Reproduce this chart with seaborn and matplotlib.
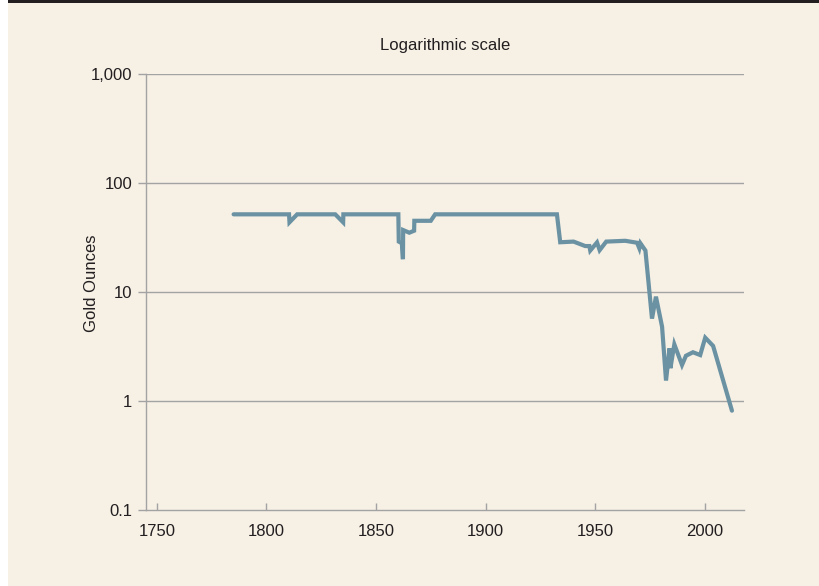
import pandas as pd
import seaborn as sns
import matplotlib.pyplot as plt
from matplotlib.patches import Rectangle
from matplotlib.ticker import FixedLocator, FixedFormatter, NullLocator

# Gold ounces over time
years = [1785, 1810.3, 1810.5, 1814, 1831.4, 1835, 1835.1, 1860.2, 1860.4, 1861.8,
         1862.3, 1862.4, 1865.2, 1867.4, 1867.5, 1875, 1877,
         1932.6, 1934.1, 1940.2, 1945.5, 1947.4, 1947.8, 1950.9, 1952.1, 1955.1,
         1963.8, 1969.2, 1970.2, 1970.7, 1973, 1976, 1977.8, 1980.6, 1982.4,
         1984, 1984.4, 1986.2, 1989.7, 1991.5, 1994.7, 1998, 2000.3, 2003.9, 2012.5]
ounces = [51.6, 51.6, 43.6, 51.6, 51.6, 43.6, 51.6, 51.6, 29.0, 28.0,
          20.0, 37.0, 35.0, 36.5, 45.0, 45.0, 51.6,
          51.6, 28.6, 29.0, 26.4, 26.4, 24.0, 28.5, 24.2, 29.0,
          29.5, 28.3, 25.2, 28.0, 24.0, 5.7, 9.06, 4.8, 1.54,
          3.04, 2.0, 3.31, 2.14, 2.6, 2.8, 2.64, 3.81, 3.2, 0.815]

y_ticks = [0.1, 1, 10, 100, 1000]
y_labels = ['0.1', '1', '10', '100', '1,000']
x_ticks = [1750, 1800, 1850, 1900, 1950, 2000]

df = pd.DataFrame({'year': years, 'ounces': ounces})

bg = '#f6f0e5'
ink = '#231f20'
grey = '#a3a3a3'

sns.set_style('white')
plt.rcParams['font.family'] = ['Liberation Sans', 'DejaVu Sans']

fig = plt.figure(figsize=(8.19, 5.86), dpi=100)
fig.patch.set_facecolor('white')
# beige panel and dark top rule
fig.patches.append(Rectangle((8 / 819, 0), 1 - 8 / 819, 1, transform=fig.transFigure,
                             facecolor=bg, edgecolor='none', zorder=-2))
fig.patches.append(Rectangle((8 / 819, 1 - 3 / 586), 1 - 8 / 819, 3 / 586,
                             transform=fig.transFigure, facecolor=ink,
                             edgecolor='none', zorder=-1))

ax = fig.add_axes([146 / 819, 1 - 510 / 586, 598 / 819, 436 / 586])
ax.set_facecolor(bg)

sns.lineplot(data=df, x='year', y='ounces', ax=ax, color='#6a92a3',
             linewidth=3, solid_joinstyle='miter', sort=False)

ax.set_yscale('log')
ax.set_ylim(0.1, 1000)
ax.set_xlim(1745, 2018)

ax.yaxis.set_major_locator(FixedLocator(y_ticks))
ax.yaxis.set_major_formatter(FixedFormatter(y_labels))
ax.yaxis.set_minor_locator(NullLocator())
ax.set_xticks(x_ticks)
ax.set_xticklabels([str(x) for x in x_ticks])

for y in y_ticks[1:]:
    ax.axhline(y, color=grey, linewidth=1, zorder=0)

for side in ['top', 'right']:
    ax.spines[side].set_visible(False)
for side in ['left', 'bottom']:
    ax.spines[side].set_color(grey)
    ax.spines[side].set_linewidth(1)

ax.tick_params(axis='y', direction='out', length=6, width=1, color=grey,
               pad=4, labelsize=12, labelcolor=ink, left=True)
ax.tick_params(axis='x', direction='in', length=5, width=1, color=grey,
               pad=10, labelsize=12, labelcolor=ink, bottom=True)

ax.set_xlabel('')
ax.set_ylabel('Gold Ounces', fontsize=12, color=ink)
ax.yaxis.set_label_coords(-0.079, 0.52)
ax.set_title('Logarithmic scale', fontsize=12, color=ink, pad=17)

fig.savefig('out.png', dpi=100, facecolor=fig.get_facecolor())
